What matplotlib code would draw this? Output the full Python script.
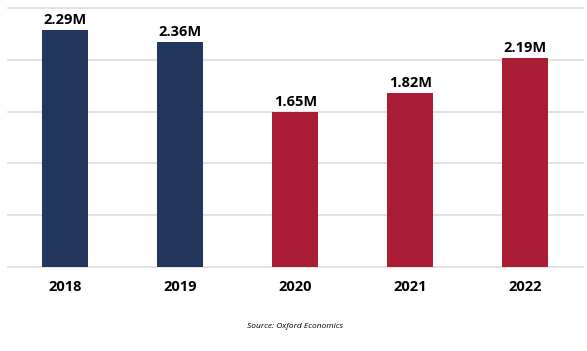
import matplotlib
matplotlib.use("Agg")
import matplotlib.pyplot as plt

# values (bar heights in millions, labels as printed)
years = ["2018", "2019", "2020", "2021", "2022"]
heights = [2.29, 2.175, 1.50, 1.68, 2.02]
labels = ["2.29M", "2.36M", "1.65M", "1.82M", "2.19M"]
colors = ["#23365E", "#23365E", "#AA1B34", "#AA1B34", "#AA1B34"]

plt.rcParams["font.family"] = ["Open Sans", "DejaVu Sans"]

fig = plt.figure(figsize=(5.87, 3.51), dpi=100)
ax = fig.add_axes([0.0136, 0.2393, 0.9795, 0.7377])

x = range(len(years))
bars = ax.bar(x, heights, width=0.4, color=colors, zorder=2)

for b, lab in zip(bars, labels):
    ax.text(b.get_x() + b.get_width() / 2, b.get_height() + 0.025, lab,
            ha="center", va="bottom", fontsize=10.5, fontweight="bold", color="black")

ax.set_xlim(-0.5, 4.5)
ax.set_ylim(0, 2.5)
ax.set_yticks([0, 0.5, 1.0, 1.5, 2.0, 2.5])
ax.yaxis.grid(True, color="#dddddd", linewidth=1.2, zorder=0)
for gl in ax.get_ygridlines():
    gl.set_clip_on(False)
ax.tick_params(axis="y", left=False, labelleft=False)
ax.tick_params(axis="x", bottom=False, pad=6)
ax.set_xticks(list(x))
ax.set_xticklabels(years, fontsize=10.5, fontweight="bold")
for s in ax.spines.values():
    s.set_visible(False)

fig.text(0.503, 1 - 326 / 351, "Source: Oxford Economics", ha="center", va="center",
         fontsize=6, style="italic", color="black")

fig.savefig("out.png", dpi=100)
